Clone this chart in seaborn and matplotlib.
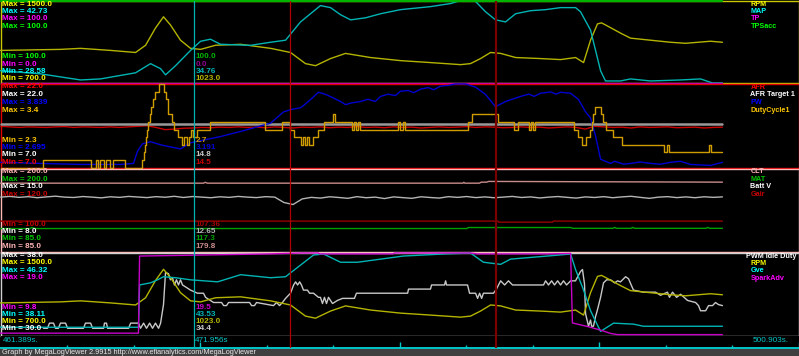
import numpy as np
import matplotlib
matplotlib.use("Agg")
import matplotlib.pyplot as plt
import seaborn as sns

sns.set_theme(style="dark")
plt.rcParams['font.family'] = ['Liberation Sans', 'DejaVu Sans']

# ---------------- data ----------------
view_start, view_end = 461.389, 500.903
cursor_time = 471.956
marker_times = [477.21, 488.53]
time_labels = ["461.389s.", "471.956s", "500.903s."]
footer_text = "Graph by MegaLogViewer 2.9915 http://www.efianalytics.com/MegaLogViewer"

rpm_t = [461.39, 464.67, 465.77, 467.41, 468.78, 469.33, 469.87, 470.31, 470.69, 471.24, 471.79, 472.34,
         473.16, 474.53, 476.17, 477.26, 478.08, 478.63, 479.45, 480.27, 481.64, 483.28, 484.92, 486.57,
         487.11, 487.66, 488.21, 488.76, 489.58, 490.94, 492.04, 492.86, 493.30, 493.68, 494.06, 494.28,
         494.50, 495.32, 495.87, 496.96, 498.06, 498.88, 500.25, 500.90]
rpm_v = [1016, 1026, 1036, 1016, 996, 1066, 1233, 1342, 1263, 1115, 1036, 1026,
         1066, 1075, 1036, 996, 888, 868, 937, 987, 947, 917, 898, 878,
         888, 937, 996, 987, 947, 937, 927, 947, 898, 1115, 1273, 1283,
         1263, 1184, 1135, 1115, 1095, 1085, 1105, 1095]

map_t = [461.39, 463.58, 465.77, 466.86, 468.78, 469.60, 470.15, 470.42, 470.97, 471.79, 472.34, 472.88,
         473.43, 475.07, 476.17, 476.99, 477.81, 478.90, 479.45, 480.00, 480.55, 481.37, 482.19, 483.28,
         484.92, 486.02, 486.57, 487.11, 487.39, 487.93, 488.48, 489.03, 489.58, 490.40, 491.22, 492.04,
         492.86, 493.13, 493.68, 494.23, 494.50, 495.32, 495.87, 496.96, 498.61, 499.70, 500.36, 500.90]
map_v = [30.68, 30.15, 29.10, 29.28, 30.33, 31.90, 31.03, 29.98, 31.55, 34.17, 35.74, 36.09,
         35.22, 35.04, 35.57, 35.92, 39.06, 41.86, 41.51, 40.29, 39.41, 39.76, 40.46, 41.16,
         41.68, 42.21, 42.73, 42.73, 42.56, 40.81, 39.41, 39.06, 40.46, 40.98, 41.16, 41.51,
         41.51, 40.81, 37.66, 30.68, 28.93, 28.93, 29.28, 28.93, 29.10, 29.28, 28.58, 28.58]

tp_t = [461.39, 500.90]
tp_v = [0.0, 0.0]
tpsacc_t = [461.39, 500.90]
tpsacc_v = [100.0, 100.0]

half_t = [461.4, 461.9, 462.4, 462.9, 463.4, 463.9, 464.4, 464.9, 465.4, 465.9,
          466.4, 466.9, 467.4, 467.9, 468.4, 468.9, 469.4, 469.9, 470.4, 470.9,
          471.4, 471.9, 472.4, 472.9, 473.4, 473.9, 474.4, 474.9, 475.4, 475.9,
          476.4, 476.9, 477.4, 477.9, 478.4, 478.9, 479.4, 479.9, 480.4, 480.9,
          481.4, 481.9, 482.4, 482.9, 483.4, 483.9, 484.4, 484.9, 485.4, 485.9,
          486.4, 486.9, 487.4, 487.9, 488.4, 488.9, 489.4, 489.9, 490.4, 490.9,
          491.4, 491.9, 492.4, 492.9, 493.4, 493.9, 494.4, 494.9, 495.4, 495.9,
          496.4, 496.9, 497.4, 497.9, 498.4, 498.9, 499.4, 499.9, 500.4, 500.9]
afr_v = [14.4, 14.3, 14.2, 14.3, 14.25, 14.2, 14.3, 14.35, 14.2, 14.3,
         14.25, 14.2, 14.3, 14.2, 14.3, 14.4, 14.5, 14.2, 13.8, 13.9,
         14.05, 14.1, 14.2, 14.15, 14.25, 14.2, 14.3, 14.2, 14.25, 14.15,
         14.3, 14.2, 14.1, 14.25, 14.2, 14.3, 14.15, 14.25, 14.2, 14.35,
         14.2, 14.25, 14.15, 14.3, 14.2, 14.25, 14.1, 14.2, 14.3, 14.2,
         14.25, 14.35, 14.2, 14.3, 14.25, 14.15, 14.2, 14.3, 14.2, 14.25,
         14.1, 14.2, 14.3, 14.2, 13.9, 14.4, 14.3, 14.2, 14.25, 14.1,
         14.3, 14.2, 14.25, 14.3, 14.15, 14.2, 14.25, 14.1, 14.2, 14.25]
batt_v = [12.60, 12.66, 12.58, 12.64, 12.55, 12.62, 12.68, 12.60, 12.57, 12.65,
          12.60, 12.54, 12.63, 12.58, 12.66, 12.61, 12.56, 12.64, 12.59, 12.67,
          12.57, 12.65, 12.60, 12.55, 12.63, 12.58, 12.66, 12.60, 12.56, 12.64,
          12.60, 12.15, 11.98, 12.45, 12.58, 12.52, 12.63, 12.57, 12.50, 12.64,
          12.55, 12.60, 12.48, 12.62, 12.56, 12.50, 12.63, 12.57, 12.52, 12.64,
          12.58, 12.65, 12.56, 12.62, 12.55, 12.60, 12.66, 12.57, 12.62, 12.53,
          12.60, 12.65, 12.58, 12.52, 12.62, 12.57, 12.64, 12.55, 12.62, 12.67,
          12.58, 12.50, 12.60, 12.64, 12.56, 12.62, 12.55, 12.63, 12.58, 12.62]

afr_target_t = [461.39, 500.90]
afr_target_v = [14.8, 14.8]

pw_t = [461.39, 463.58, 465.77, 467.96, 468.67, 468.89, 469.16, 469.60, 470.15, 470.69, 471.24, 471.79,
        472.34, 473.43, 474.53, 475.35, 476.17, 476.88, 477.30, 477.81, 478.00, 478.36, 478.79, 479.18,
        479.50, 480.00, 480.27, 480.60, 481.09, 481.50, 481.90, 482.19, 482.60, 483.00, 483.28, 483.70,
        484.00, 484.38, 484.80, 485.10, 485.47, 485.90, 486.29, 486.84, 487.39, 487.93, 488.48, 489.03,
        489.85, 490.30, 490.60, 490.94, 491.50, 491.80, 492.04, 492.59, 493.02, 493.41, 493.68, 493.95,
        494.23, 494.78, 495.00, 495.50, 495.87, 496.40, 496.96, 497.50, 498.06, 498.60, 499.15, 500.25,
        500.90]
pw_v = [2.766, 2.751, 2.737, 2.737, 2.751, 2.921, 3.020, 3.048, 3.006, 2.977, 2.949, 3.034,
        3.062, 3.119, 3.189, 3.246, 3.302, 3.457, 3.490, 3.514, 3.550, 3.627, 3.726, 3.697,
        3.660, 3.599, 3.556, 3.580, 3.599, 3.630, 3.600, 3.669, 3.700, 3.680, 3.740, 3.750,
        3.720, 3.768, 3.790, 3.760, 3.810, 3.820, 3.839, 3.839, 3.796, 3.697, 3.528, 3.599,
        3.669, 3.700, 3.670, 3.712, 3.730, 3.700, 3.726, 3.712, 3.627, 3.457, 3.373, 3.133,
        2.808, 2.751, 2.780, 2.740, 2.751, 2.770, 2.751, 2.740, 2.766, 2.780, 2.737, 2.723,
        2.766]

duty_t = [461.39, 463.74, 466.32, 466.59, 466.75, 466.86, 467.03, 467.19, 467.36, 467.52, 468.23, 469.16,
          469.22, 469.27, 469.33, 469.38, 469.44, 469.55, 469.65, 469.76, 469.87, 470.04, 470.31, 470.42,
          470.53, 470.58, 470.75, 470.91, 471.13, 471.30, 471.41, 471.57, 471.68, 471.84, 471.95, 472.17,
          472.88, 475.89, 476.82, 477.26, 477.43, 477.81, 477.97, 478.08, 478.19, 478.30, 478.47, 478.79,
          479.07, 479.56, 479.67, 480.65, 480.76, 480.87, 480.98, 481.09, 483.17, 483.28, 483.39, 483.50,
          486.95, 487.22, 488.59, 489.47, 489.69, 490.29, 490.40, 490.51, 490.62, 492.75, 493.02, 493.24,
          493.41, 493.63, 493.74, 493.84, 493.95, 494.23, 494.34, 494.50, 494.89, 495.43, 497.68, 497.84,
          498.00, 500.19, 500.30, 500.90]
duty_v = [2.3, 2.4, 2.3, 2.4, 2.3, 2.4, 2.3, 2.4, 2.3, 2.4, 2.3, 2.4,
          2.5, 2.6, 2.7, 2.8, 2.9, 3.0, 3.1, 3.2, 3.3, 3.4, 3.3, 3.2,
          3.1, 3.0, 2.9, 2.8, 2.7, 2.6, 2.7, 2.6, 2.7, 2.8, 2.7, 2.8,
          2.9, 2.8, 2.9, 2.8, 2.7, 2.6, 2.7, 2.6, 2.7, 2.6, 2.7, 2.8,
          2.9, 3.0, 2.9, 2.8, 2.9, 2.8, 2.9, 2.8, 2.9, 2.8, 2.9, 2.8,
          2.9, 3.0, 2.9, 2.8, 2.9, 2.8, 2.9, 2.8, 2.9, 2.8, 2.7, 2.6,
          2.7, 2.8, 2.9, 3.0, 3.1, 3.0, 2.9, 2.8, 2.7, 2.6, 2.5, 2.6,
          2.5, 2.6, 2.5, 2.5]

clt_t = [461.39, 472.50, 472.60, 472.70, 486.70, 486.75, 486.80, 487.60, 487.70, 488.00, 488.10, 500.90]
clt_v = [179.8, 179.8, 181.0, 179.8, 179.8, 181.0, 179.8, 179.8, 181.2, 181.2, 182.2, 181.2]

mat_t = [461.39, 463.00, 463.10, 463.30, 486.90, 487.00, 492.60, 492.70, 494.90, 495.00, 495.10,
         495.90, 496.00, 496.10, 500.00, 500.10, 500.20, 500.90]
mat_v = [117.3, 117.3, 118.7, 117.3, 117.3, 118.7, 118.7, 117.6, 117.6, 118.9, 117.6,
         117.6, 118.9, 117.6, 117.6, 118.9, 117.6, 117.6]

gair_t = [461.39, 488.60, 488.65, 491.60, 491.65, 500.90]
gair_v = [107.4, 107.4, 107.15, 107.15, 107.4, 107.4]

idle_t = [463.74, 463.96, 464.07, 464.29, 464.40, 464.56, 464.67, 464.95, 465.06, 465.93, 466.04, 466.32,
          466.43, 467.03, 467.08, 467.19, 467.25, 468.40, 468.51, 468.94, 469.05, 469.22, 469.38, 469.55,
          469.71, 469.87, 470.04, 470.15, 470.31, 470.42, 470.58, 470.69, 470.80, 470.91, 471.02, 471.13,
          471.24, 471.35, 471.62, 471.79, 472.17, 472.50, 472.61, 473.05, 473.49, 473.60, 473.76, 473.87,
          475.02, 475.13, 475.29, 475.40, 476.33, 476.50, 476.66, 476.82, 476.99, 477.26, 477.43, 477.54,
          477.65, 477.76, 477.86, 477.97, 478.19, 478.30, 478.52, 478.79, 478.90, 479.01, 479.12, 479.23,
          479.34, 479.56, 479.83, 480.11, 480.76, 480.87, 483.67, 483.72, 484.92, 484.98, 485.69, 485.75,
          485.80, 486.95, 487.06, 487.39, 487.50, 487.61, 487.72, 487.82, 488.37, 488.53, 488.76, 488.98,
          489.19, 489.41, 491.11, 491.22, 491.38, 491.55, 491.71, 491.88, 492.04, 492.20, 492.37, 492.59,
          492.86, 493.13, 493.24, 493.35, 493.41, 493.57, 493.68, 493.74, 493.84, 493.95, 494.06, 494.23,
          494.39, 494.56, 494.78, 495.00, 495.16, 495.32, 495.60, 495.76, 496.03, 496.58, 497.24, 497.51,
          497.89, 498.00, 498.17, 498.39, 498.61, 498.99, 499.43, 499.59, 499.70, 499.98, 500.14, 500.36,
          500.52, 500.68, 500.90]
idle_v = [30.7, 30.7, 31.2, 31.2, 30.7, 30.7, 31.2, 31.2, 30.7, 30.7, 31.2, 31.2,
          30.7, 30.7, 31.2, 31.2, 30.7, 30.7, 31.2, 31.2, 30.7, 31.2, 30.7, 31.2,
          30.7, 31.2, 30.7, 31.2, 33.0, 36.1, 36.0, 35.4, 35.6, 34.9, 35.4, 34.9,
          35.4, 34.9, 34.6, 34.4, 34.1, 34.1, 33.7, 33.2, 33.2, 32.9, 32.9, 33.2,
          33.2, 32.9, 32.9, 33.2, 32.9, 33.2, 32.9, 33.2, 33.6, 34.1, 34.9, 35.2,
          34.9, 35.2, 34.9, 34.4, 34.4, 34.1, 34.1, 33.7, 33.7, 33.1, 33.7, 33.1,
          33.7, 33.1, 33.4, 33.6, 33.6, 34.1, 34.1, 34.5, 34.5, 34.9, 34.9, 35.3,
          34.9, 34.9, 34.1, 34.1, 33.6, 34.1, 33.6, 34.1, 34.1, 34.5, 35.3, 34.9,
          35.3, 34.9, 34.9, 35.3, 34.9, 35.3, 34.9, 35.3, 34.9, 35.3, 34.9, 35.3,
          35.3, 36.2, 36.4, 35.0, 32.1, 30.9, 31.5, 30.9, 30.9, 31.8, 32.5, 33.7,
          35.1, 35.4, 35.4, 35.1, 35.3, 35.2, 35.7, 35.5, 34.4, 34.2, 34.2, 33.9,
          34.2, 33.7, 34.2, 33.7, 34.0, 33.4, 33.2, 32.9, 32.4, 32.4, 32.9, 32.9,
          33.2, 33.0, 32.9]

gve_t = [461.39, 468.94, 469.00, 469.60, 469.98, 470.31, 470.97, 471.79, 473.27, 474.53, 476.17, 476.99,
         478.52, 479.07, 480.00, 480.93, 482.19, 483.45, 485.64, 487.11, 487.82, 488.76, 489.30, 491.33,
         492.59, 492.86, 493.30, 493.68, 493.95, 494.23, 494.94, 496.03, 496.58, 500.90]
gve_v = [38.93, 38.93, 43.14, 43.35, 43.65, 43.96, 43.86, 43.65, 43.45, 44.16, 43.86, 43.96,
         46.12, 46.22, 45.40, 45.40, 45.71, 46.02, 46.22, 46.32, 45.40, 45.19, 45.71, 46.02,
         46.22, 44.68, 42.63, 40.58, 39.55, 38.52, 39.34, 39.24, 39.03, 39.03]

spark_t = [461.39, 468.94, 469.00, 476.17, 477.81, 478.79, 478.85, 482.88, 482.95, 487.11, 487.50, 491.33,
           492.59, 492.69, 493.52, 494.23, 494.78, 495.16, 500.90]
spark_v = [10.06, 10.06, 18.66, 18.9, 19.0, 19.0, 18.9, 18.9, 19.0, 19.0, 18.9, 18.9,
           18.95, 11.2, 10.8, 10.4, 10.03, 9.9, 9.9]

# panel channel definitions: name, scale min, scale max, cursor value
p1_names = ["RPM", "MAP", "TP", "TPSacc"]
p1_min = [700.0, 28.58, 0.0, 100.0]
p1_max = [1500.0, 42.73, 100.0, 100.0]
p1_cur = ["1023.0", "34.76", "0.0", "100.0"]

p2_names = ["AFR", "AFR Target 1", "PW", "DutyCycle1"]
p2_min = [7.0, 7.0, 2.695, 2.3]
p2_max = [22.0, 22.0, 3.839, 3.4]
p2_cur = ["14.5", "14.8", "3.191", "2.7"]

p3_names = ["CLT", "MAT", "Batt V", "Gair"]
p3_min = [85.0, 85.0, 8.0, 100.0]
p3_max = [200.0, 200.0, 15.0, 120.0]
p3_cur = ["179.8", "117.3", "12.65", "107.36"]

p4_names = ["PWM Idle Duty", "RPM", "Gve", "SparkAdv"]
p4_min = [30.0, 700.0, 38.11, 9.8]
p4_max = [38.0, 1500.0, 46.32, 19.0]
p4_cur = ["34.4", "1023.0", "43.53", "19.5"]

# ---------------- drawing ----------------
W, H = 799, 356
fig = plt.figure(figsize=(W / 100, H / 100), dpi=100, facecolor="black")

px_per_s = 722.0 / (view_end - view_start)
x_right = view_start + 798.0 / px_per_s

LABEL_SIZE = 5.9
LEGEND_SIZE = 5.25


def rect(x0, y0, x1, y1):
    return [x0 / W, 1 - y1 / H, (x1 - x0) / W, (y1 - y0) / H]


def ftext(x, y, s, color, size=LABEL_SIZE, weight="bold", ha="left"):
    fig.text(x / W, 1 - y / H, s, color=color, fontsize=size, fontweight=weight,
             ha=ha, va="center")


panels = [
    dict(y0=0.5, y1=83.0, border="#c8c800", names=p1_names, mins=p1_min, maxs=p1_max, cur=p1_cur,
         series=[(rpm_t, rpm_v, "#b4b400", 1.0, "default"), (map_t, map_v, "#00b4b4", 1.0, "default"),
                 (tp_t, tp_v, "#c800c8", 1.0, "default"), (tpsacc_t, tpsacc_v, "#00b400", 1.6, "default")],
         label_col=["#ffff00", "#00ffff", "#ff00ff", "#00ff00"],
         cur_col=["#b4b400", "#00b4b4", "#900090", "#00b400"],
         max_y=[4.3, 11.7, 19.0, 26.3], min_y=[56.7, 64.0, 71.3, 78.5], leg_y=[4.3, 11.7, 19.0, 26.3]),
    dict(y0=84.0, y1=167.5, border="#e00000", names=p2_names, mins=p2_min, maxs=p2_max, cur=p2_cur,
         series=[(half_t, afr_v, "#c80000", 1.0, "default"),
                 (afr_target_t, afr_target_v, "#9a9a9a", 1.8, "default"),
                 (pw_t, pw_v, "#0000d0", 1.0, "default"), (duty_t, duty_v, "#d09c00", 1.0, "steps-post")],
         label_col=["#ff0000", "#ffffff", "#0000ff", "#ffc800"],
         cur_col=["#c80000", "#c8c8c8", "#0000d0", "#d09c00"],
         max_y=[87.0, 95.0, 102.7, 110.0], min_y=[140.0, 147.5, 155.0, 162.3], leg_y=[87.3, 95.0, 102.3, 110.0]),
    dict(y0=168.5, y1=252.0, border="#ffb8b8", names=p3_names, mins=p3_min, maxs=p3_max, cur=p3_cur,
         series=[(clt_t, clt_v, "#c88c8c", 1.0, "default"), (mat_t, mat_v, "#00a000", 1.0, "default"),
                 (half_t, batt_v, "#b4b4b4", 1.0, "default"), (gair_t, gair_v, "#960000", 1.0, "default")],
         label_col=["#ffb4b4", "#00c800", "#ffffff", "#c80000"],
         cur_col=["#c88c8c", "#00a000", "#b4b4b4", "#a00000"],
         max_y=[171.7, 179.3, 186.7, 194.0], min_y=[224.3, 231.7, 239.0, 246.3], leg_y=[171.7, 179.3, 186.7, 194.0]),
    dict(y0=253.0, y1=335.5, border="#d0d0d0", names=p4_names, mins=p4_min, maxs=p4_max, cur=p4_cur,
         series=[(idle_t, idle_v, "#c8c8c8", 1.0, "default"), (rpm_t, rpm_v, "#b4b400", 1.0, "default"),
                 (gve_t, gve_v, "#00b4b4", 1.0, "default"), (spark_t, spark_v, "#c800c8", 1.0, "default")],
         label_col=["#ffffff", "#ffff00", "#00ffff", "#ff00ff"],
         cur_col=["#c8c8c8", "#b4b400", "#00b4b4", "#c800c8"],
         max_y=[255.3, 262.7, 270.0, 277.7], min_y=[307.3, 314.5, 321.7, 329.0], leg_y=[256.0, 263.3, 270.7, 278.0]),
]

for p in panels:
    ax = fig.add_axes(rect(0.5, p["y0"], 798.5, p["y1"]))
    ax.set_facecolor("black")
    ax.set_xlim(view_start, x_right)
    ax.set_xticks([])
    ax.set_yticks([])
    ax.grid(False)
    for sp in ax.spines.values():
        sp.set_color(p["border"])
        sp.set_linewidth(1.0)
        sp.set_visible(True)
    for (t, v, col, lw, ds), lo, hi in zip(p["series"], p["mins"], p["maxs"]):
        a2 = ax.twinx()
        a2.set_xlim(view_start, x_right)
        if hi == lo:
            a2.set_ylim(lo - 100.0, hi)
        else:
            a2.set_ylim(lo, hi)
        a2.axis("off")
        sns.lineplot(x=t, y=v, ax=a2, color=col, linewidth=lw, estimator=None, sort=False,
                     drawstyle=ds, legend=False)
        a2.lines[-1].set_clip_on(False)
    # labels
    n = len(p["names"])
    for i in range(n):
        ftext(2.5, p["max_y"][i], f"Max = {p['maxs'][i]}", p["label_col"][i])
        j = n - 1 - i
        ftext(2.5, p["min_y"][i], f"Min = {p['mins'][j]}", p["label_col"][j])
        ftext(195.5, p["min_y"][i], p["cur"][j], p["cur_col"][j])
        ftext(750.5 if len(p["names"][i]) < 13 else 745.5, p["leg_y"][i], p["names"][i],
              p["label_col"][i], size=LEGEND_SIZE)

# time strip
axt = fig.add_axes(rect(0.5, 335.5, 798.5, 348.0))
axt.set_facecolor("black")
axt.set_xlim(view_start, x_right)
axt.set_yticks([])
for side in ["top", "left", "right"]:
    axt.spines[side].set_visible(False)
axt.spines["bottom"].set_color("#00c8c8")
axt.spines["bottom"].set_linewidth(1.4)
tick_pos = np.linspace(view_start, x_right, 13)[1:]
axt.set_xticks(tick_pos[2::3])
axt.set_xticks([tp for k, tp in enumerate(tick_pos) if (k + 1) % 3 != 0], minor=True)
axt.tick_params(axis="x", which="major", direction="in", length=4.3, width=1.0, color="#00c8c8",
                labelbottom=False, bottom=True)
axt.tick_params(axis="x", which="minor", direction="in", length=1.9, width=1.0, color="#00c8c8",
                bottom=True)
axt.grid(False)
ftext(2.5, 340.5, time_labels[0], "#00c8c8", size=5.9, weight="normal")
ftext(195.0, 340.5, time_labels[1], "#00c8c8", size=5.9, weight="normal")
ftext(789.0, 340.5, time_labels[2], "#00c8c8", size=5.9, weight="normal", ha="right")

# footer
axf = fig.add_axes(rect(0, 348.5, 799, 356.5))
axf.set_facecolor("#404040")
axf.set_xticks([])
axf.set_yticks([])
for sp in axf.spines.values():
    sp.set_visible(False)
ftext(2.5, 352.3, footer_text, "#e6e6e6", size=5.3, weight="normal")

# cursor and markers overlay
axo = fig.add_axes(rect(0.5, 0.5, 798.5, 348.0))
axo.set_xlim(view_start, x_right)
axo.set_ylim(0, 1)
axo.axis("off")
axo.axvline(marker_times[0], color="#b00000", linewidth=0.9)
axo.axvline(marker_times[1], color="#7a0000", linewidth=1.6)
axo.axvline(cursor_time, color="#00b4b4", linewidth=0.9)

fig.savefig("out.png", dpi=100, facecolor="black")
